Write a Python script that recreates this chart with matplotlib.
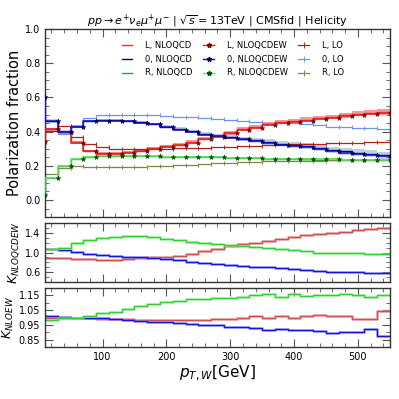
import numpy as np
import matplotlib
matplotlib.use("Agg")
import matplotlib.pyplot as plt
from matplotlib.ticker import MultipleLocator

# right bin edges in GeV (first point sits on the left edge of the plot)
pt = [10, 30, 50, 70, 90, 110, 130, 150, 170, 190, 210, 230, 250, 270, 290,
      310, 330, 350, 370, 390, 410, 430, 450, 470, 490, 510, 530, 550]

# polarization fractions, NLO QCD+EW
L_ew = [0.34, 0.416, 0.398, 0.336, 0.285, 0.272, 0.272, 0.276, 0.285, 0.30,
        0.31, 0.32, 0.335, 0.355, 0.37, 0.39, 0.41, 0.42, 0.44, 0.45, 0.455,
        0.465, 0.475, 0.48, 0.49, 0.50, 0.505, 0.51]
Z_ew = [0.60, 0.46, 0.395, 0.43, 0.46, 0.465, 0.465, 0.46, 0.452, 0.442,
        0.427, 0.412, 0.397, 0.383, 0.373, 0.363, 0.354, 0.344, 0.334, 0.324,
        0.316, 0.308, 0.296, 0.286, 0.277, 0.271, 0.264, 0.256]
R_ew = [0.03, 0.13, 0.20, 0.24, 0.252, 0.255, 0.256, 0.256, 0.256, 0.255,
        0.254, 0.253, 0.252, 0.25, 0.249, 0.247, 0.245, 0.243, 0.241, 0.24,
        0.239, 0.238, 0.237, 0.237, 0.236, 0.236, 0.236, 0.235]

# NLO QCD (central values hidden below the EW curves)
L_qcd = [0.34, 0.414, 0.40, 0.338, 0.287, 0.274, 0.274, 0.279, 0.288, 0.302,
         0.313, 0.324, 0.339, 0.359, 0.375, 0.394, 0.414, 0.425, 0.445, 0.455,
         0.46, 0.47, 0.48, 0.486, 0.495, 0.505, 0.51, 0.515]
Z_qcd = [0.60, 0.462, 0.397, 0.432, 0.462, 0.467, 0.466, 0.461, 0.454, 0.444,
         0.43, 0.416, 0.401, 0.387, 0.377, 0.368, 0.358, 0.35, 0.34, 0.33,
         0.322, 0.314, 0.302, 0.292, 0.284, 0.277, 0.27, 0.262]
R_qcd = [0.03, 0.13, 0.20, 0.24, 0.252, 0.255, 0.256, 0.256, 0.256, 0.255,
         0.254, 0.253, 0.252, 0.25, 0.249, 0.247, 0.245, 0.243, 0.241, 0.24,
         0.239, 0.238, 0.236, 0.236, 0.235, 0.234, 0.234, 0.233]
# scale band half widths
L_band = [0.01, 0.01, 0.01, 0.01, 0.008, 0.008, 0.008, 0.008, 0.008, 0.008,
          0.009, 0.009, 0.01, 0.01, 0.011, 0.011, 0.012, 0.012, 0.013, 0.013,
          0.013, 0.014, 0.014, 0.014, 0.015, 0.015, 0.015, 0.015]
Z_band = [0.01, 0.01, 0.01, 0.008, 0.006, 0.006, 0.006, 0.006, 0.007, 0.007,
          0.008, 0.009, 0.01, 0.011, 0.012, 0.013, 0.013, 0.015, 0.016, 0.016,
          0.017, 0.018, 0.018, 0.019, 0.019, 0.02, 0.02, 0.02]
R_band = [0.005, 0.005, 0.005, 0.005, 0.005, 0.005, 0.005, 0.005, 0.005,
          0.005, 0.005, 0.005, 0.005, 0.005, 0.006, 0.006, 0.006, 0.006, 0.006,
          0.006, 0.007, 0.007, 0.007, 0.007, 0.007, 0.007, 0.007, 0.007]

# LO
L_lo = [0.35, 0.405, 0.435, 0.37, 0.33, 0.31, 0.30, 0.298, 0.297, 0.298,
        0.30, 0.302, 0.305, 0.307, 0.31, 0.312, 0.315, 0.318, 0.32, 0.324,
        0.326, 0.328, 0.33, 0.332, 0.334, 0.336, 0.338, 0.34]
Z_lo = [0.60, 0.42, 0.385, 0.43, 0.478, 0.495, 0.50, 0.50, 0.498, 0.496,
        0.492, 0.488, 0.485, 0.48, 0.474, 0.468, 0.462, 0.457, 0.452, 0.45,
        0.448, 0.444, 0.44, 0.43, 0.428, 0.422, 0.42, 0.418]
R_lo = [0.03, 0.15, 0.185, 0.198, 0.195, 0.194, 0.194, 0.194, 0.195, 0.197,
        0.20, 0.203, 0.206, 0.21, 0.215, 0.219, 0.222, 0.225, 0.227, 0.228,
        0.229, 0.23, 0.231, 0.232, 0.232, 0.233, 0.233, 0.234]

# K factors NLOQCDEW / LO
K_L = [np.nan, 0.88, 0.88, 0.86, 0.86, 0.855, 0.855, 0.86, 0.88, 0.90,
       0.92, 0.94, 0.98, 1.03, 1.08, 1.13, 1.17, 1.20, 1.24, 1.28, 1.31,
       1.35, 1.37, 1.40, 1.42, 1.45, 1.47, 1.50]
K_Z = [np.nan, 1.08, 1.05, 1.02, 0.98, 0.96, 0.94, 0.92, 0.90, 0.88, 0.86,
       0.84, 0.81, 0.79, 0.77, 0.75, 0.73, 0.71, 0.70, 0.69, 0.67, 0.65,
       0.63, 0.61, 0.60, 0.60, 0.59, 0.58]
K_R = [np.nan, 1.08, 1.10, 1.185, 1.25, 1.29, 1.32, 1.33, 1.33, 1.31, 1.28,
       1.25, 1.215, 1.19, 1.17, 1.16, 1.14, 1.12, 1.09, 1.08, 1.06, 1.035,
       1.0, 1.0, 1.0, 1.0, 0.97, 0.98]

# K factors NLOEW
E_L = [np.nan, 1.0, 1.0, 0.998, 0.995, 0.993, 0.99, 0.988, 0.985, 0.983,
       0.982, 0.982, 0.984, 0.986, 0.988, 0.99, 0.994, 1.01, 1.0, 1.01, 1.0,
       1.012, 1.02, 1.01, 1.014, 0.992, 0.993, 1.045]
E_Z = [np.nan, 1.01, 1.006, 1.0, 0.999, 0.994, 0.988, 0.983, 0.979, 0.972,
       0.968, 0.961, 0.955, 0.95, 0.95, 0.939, 0.934, 0.928, 0.917, 0.923,
       0.917, 0.917, 0.912, 0.899, 0.903, 0.905, 0.921, 0.877]
E_R = [np.nan, 0.983, 0.995, 1.0, 1.01, 1.028, 1.04, 1.055, 1.077, 1.09,
       1.103, 1.112, 1.123, 1.128, 1.134, 1.134, 1.139, 1.15, 1.157, 1.14,
       1.16, 1.143, 1.15, 1.15, 1.157, 1.15, 1.139, 1.154]

pt = np.array(pt)

fig = plt.figure(figsize=(3.99, 3.99), dpi=100)
ax1 = fig.add_axes([0.113, 0.456, 0.864, 0.471])
ax2 = fig.add_axes([0.113, 0.293, 0.864, 0.148])
ax3 = fig.add_axes([0.113, 0.130, 0.864, 0.148])

series = [
    ("L", L_qcd, L_ew, L_lo, L_band, "#ff2a2a", "#e8231e", "#7a0000", "#b0201c", "#f08080"),
    ("0", Z_qcd, Z_ew, Z_lo, Z_band, "#000080", "#1010d0", "#000050", "#6f94ee", "#b0c4de"),
    ("R", R_qcd, R_ew, R_lo, R_band, "#2ca02c", "#5fe05f", "#005000", "#7a8a40", "#90ee90"),
]

h_qcd, h_ew, h_lo = [], [], []
for name, qcd, ew, lo, band, c_qcd, c_ew, c_mk, c_lo, c_band in series:
    qcd = np.array(qcd)
    band = np.array(band)
    ax1.fill_between(pt, qcd - band, qcd + band, step="pre",
                     color=c_band, alpha=0.8, lw=0, zorder=1)
    l1, = ax1.step(pt, qcd, where="pre", color=c_qcd, lw=1.0, zorder=2,
                   label=name + ", NLOQCD")
    ax1.step(pt, lo, where="pre", color=c_lo, lw=0.9, zorder=2)
    ax1.plot(pt, lo, ls="none", marker="|", ms=3.5, mew=0.7, color=c_lo, zorder=2)
    l3, = ax1.plot([], [], color=c_lo, lw=0.9, marker="|", ms=4.5, mew=0.7,
                   label=name + ", LO")
    ax1.step(pt, ew, where="pre", color=c_ew, lw=1.1, zorder=3)
    ax1.plot(pt, ew, ls="none", marker="*", ms=3.5, color=c_mk,
             markeredgecolor=c_mk, mew=0.4, zorder=4)
    l2, = ax1.plot([], [], color=c_ew, lw=1.0, marker="*", ms=3.5,
                   markerfacecolor=c_mk, markeredgecolor=c_mk,
                   label=name + ", NLOQCDEW")
    h_qcd.append(l1)
    h_ew.append(l2)
    h_lo.append(l3)

handles = h_qcd + h_ew + h_lo
ax1.legend(handles=handles, loc="upper left", ncol=3, fontsize=6,
           frameon=False, handlelength=1.3, handletextpad=1.5,
           columnspacing=1.3, labelspacing=0.55,
           bbox_to_anchor=(0.2, 0.975))

ax1.set_ylim(-0.1, 1.0)
ax1.set_ylabel("Polarization fraction", fontsize=10.5, labelpad=2)
ax1.yaxis.set_major_locator(MultipleLocator(0.2))
ax1.yaxis.set_minor_locator(MultipleLocator(0.05))
ax1.set_title(r"$pp\to e^{+}\nu_{e}\mu^{+}\mu^{-}$ | $\sqrt{s}=13$TeV | CMSfid | Helicity",
              fontsize=8, pad=3)

kcols = [("#d05050", "#e89090"), ("#1515e0", "#8080f0"), ("#30d030", "#90ee90")]
for vals, (c, cl) in zip([K_L, K_Z, K_R], kcols):
    ax2.step(pt, vals, where="pre", color=cl, lw=2.0, alpha=0.7)
    ax2.step(pt, vals, where="pre", color=c, lw=0.9)
for vals, (c, cl) in zip([E_L, E_Z, E_R], kcols):
    ax3.step(pt, vals, where="pre", color=cl, lw=2.0, alpha=0.7)
    ax3.step(pt, vals, where="pre", color=c, lw=0.9)

ax2.set_ylim(0.4, 1.6)
ax2.set_yticks([0.6, 1.0, 1.4])
ax2.yaxis.set_minor_locator(MultipleLocator(0.1))
ax2.set_ylabel(r"$K_{NLOQCDEW}$", fontsize=9, labelpad=2)

ax3.set_ylim(0.8, 1.2)
ax3.set_yticks([0.85, 0.95, 1.05, 1.15])
ax3.yaxis.set_minor_locator(MultipleLocator(0.05))
ax3.set_ylabel(r"$K_{NLOEW}$", fontsize=9, labelpad=2)
ax3.set_xlabel(r"$p_{T,W}$[GeV]", fontsize=11, labelpad=1)

for ax in (ax1, ax2, ax3):
    ax.set_xlim(10, 550)
    ax.xaxis.set_major_locator(MultipleLocator(100))
    ax.xaxis.set_minor_locator(MultipleLocator(20))
    ax.tick_params(which="both", direction="in", top=True, right=True,
                   labelsize=7, color="#555555")
    ax.tick_params(which="major", length=6, width=0.8)
    ax.tick_params(which="minor", length=3, width=0.6)
    for s in ax.spines.values():
        s.set_color("#333333")
        s.set_linewidth(1.0)
for ax in (ax1, ax2):
    ax.tick_params(labelbottom=False)

fig.savefig("out.png", dpi=100)
